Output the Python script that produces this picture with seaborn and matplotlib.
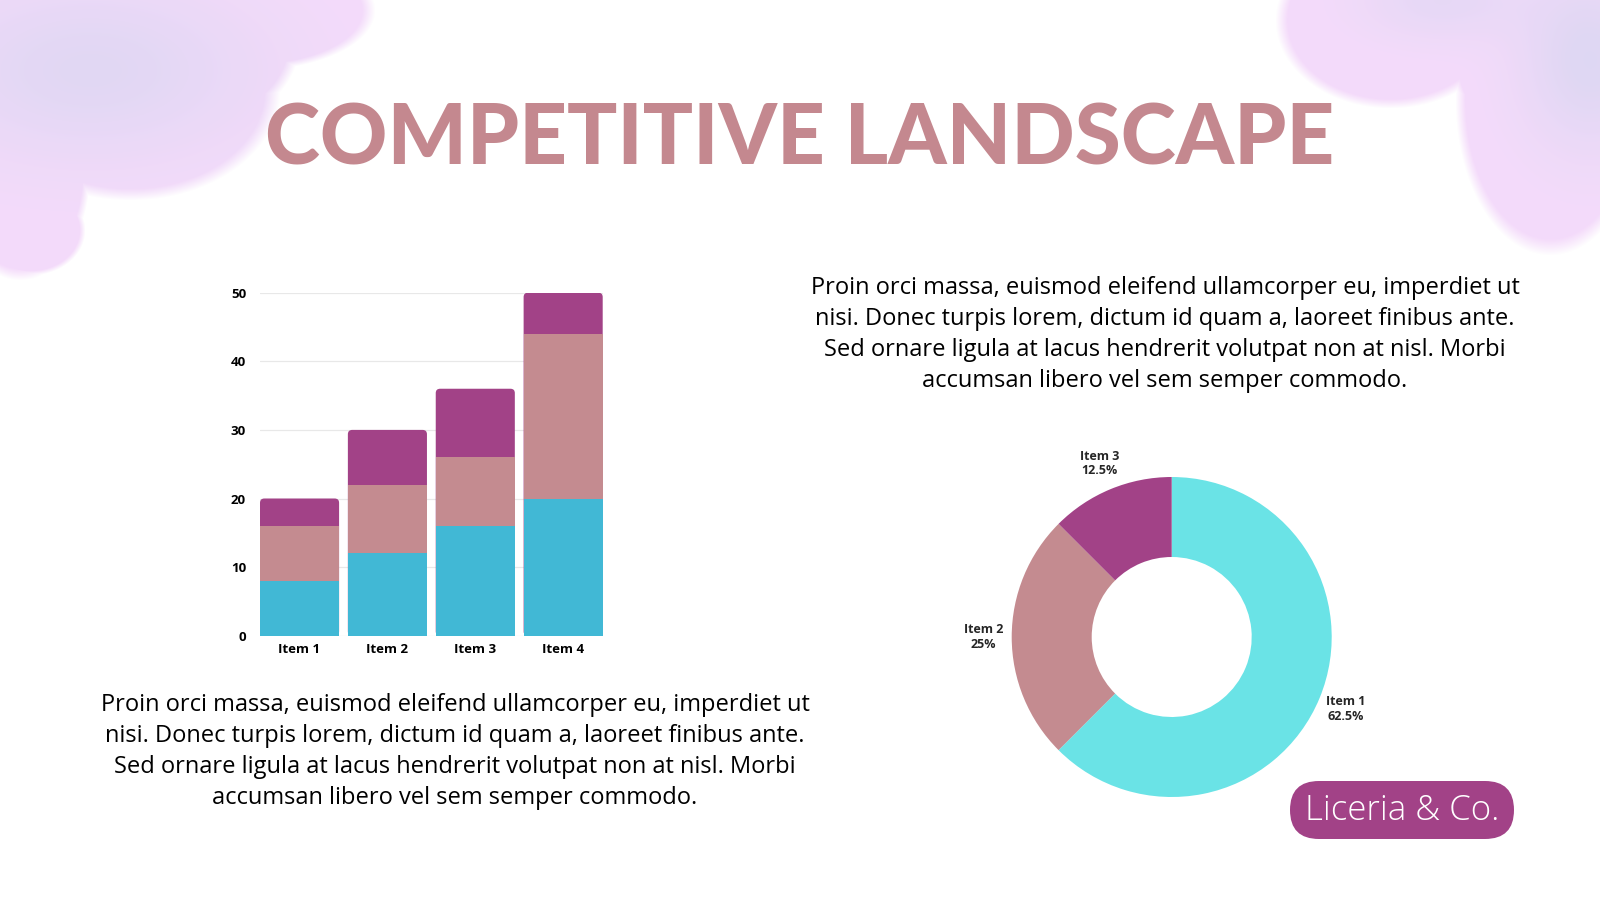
import numpy as np
import pandas as pd
import matplotlib
matplotlib.use("Agg")
import matplotlib.pyplot as plt
import seaborn as sns
from matplotlib.patches import FancyBboxPatch

# ---------------- data ----------------
bar_items = ["Item 1", "Item 2", "Item 3", "Item 4"]
series_a = [8, 12, 16, 20]     # cyan (bottom)
series_b = [8, 10, 10, 24]     # rose (middle)
series_c = [4, 8, 10, 6]       # purple (top)
y_ticks = [0, 10, 20, 30, 40, 50]

donut_labels = ["Item 1", "Item 2", "Item 3"]
donut_values = [62.5, 25, 12.5]
donut_pct = ["62.5%", "25%", "12.5%"]

title_text = "COMPETITIVE LANDSCAPE"
para_right = ["Proin orci massa, euismod eleifend ullamcorper eu, imperdiet ut",
              "nisi. Donec turpis lorem, dictum id quam a, laoreet finibus ante.",
              "Sed ornare ligula at lacus hendrerit volutpat non at nisl. Morbi",
              "accumsan libero vel sem semper commodo."]
para_left = list(para_right)
brand = "Liceria & Co."

# ---------------- style ----------------
CYAN_BAR = "#41B8D5"
ROSE = "#C48B90"
PURPLE = "#A24287"
CYAN_PIE = "#6AE3E6"
TITLE_C = "#C4888F"

sns.set_theme(style="white")
plt.rcParams["font.family"] = ["Open Sans", "DejaVu Sans"]

W, H = 1600, 900
fig = plt.figure(figsize=(16, 9), dpi=100)
fig.patch.set_facecolor("white")

# ---------------- watercolor background ----------------
bg = fig.add_axes([0, 0, 1, 1], zorder=0)
bg.set_axis_off()
yy, xx = np.mgrid[0:H, 0:W].astype(float)
blobs = [(70, 30, 220, 130), (250, 10, 125, 60), (20, 170, 70, 110),
         (130, 90, 150, 110), (190, 40, 110, 90), (30, 230, 55, 45),
         (1390, 20, 115, 88), (1550, 100, 95, 155), (1590, 20, 90, 70),
         (1520, 60, 70, 80)]
field = np.full((H, W), -10.0)
for cx, cy, rx, ry in blobs:
    f = 1 - ((xx - cx) / rx) ** 2 - ((yy - cy) / ry) ** 2
    field = np.maximum(field, f)
alpha = np.clip(field * 5.0, 0, 1) * 0.8
pink = np.array([242, 210, 250]) / 255.0
blue = np.array([208, 205, 238]) / 255.0
t = np.exp(-(((xx - 90) / 170) ** 2 + ((yy - 70) / 90) ** 2)) * 0.7 \
    + np.exp(-(((xx - 1590) / 70) ** 2 + ((yy - 60) / 90) ** 2)) * 0.8 \
    + np.exp(-(((xx - 1440) / 80) ** 2 + ((yy - 0) / 40) ** 2)) * 0.5
t = np.clip(t, 0, 1)[..., None]
rgb = pink * (1 - t) + blue * t
img = np.concatenate([rgb, alpha[..., None]], axis=2)
bg.imshow(img, extent=[0, W, H, 0], aspect="auto", interpolation="bilinear")
bg.set_xlim(0, W)
bg.set_ylim(H, 0)


def fx(px):
    return px / W


def fy(py):
    return 1 - py / H


# ---------------- title ----------------
fig.text(fx(800), fy(140), title_text, ha="center", va="center",
         fontsize=60, fontweight="black", color=TITLE_C,
         family=["Lato", "DejaVu Sans"], zorder=3)

# ---------------- stacked bar chart ----------------
df = pd.DataFrame({"item": bar_items, "a": series_a, "b": series_b, "c": series_c})
df["ab"] = df["a"] + df["b"]
df["abc"] = df["ab"] + df["c"]

ax = fig.add_axes([260 / W, fy(635.7), 342.7 / W, (635.7 - 292.7) / H], zorder=2)
ax.patch.set_alpha(0)
sns.barplot(data=df, x="item", y="abc", color=PURPLE, width=0.9, ax=ax,
            saturation=1, linewidth=0, zorder=3)
# round the top corners of the full-height (purple) bars
top_bars = list(ax.patches)
for p in top_bars:
    x0, w, h = p.get_x(), p.get_width(), p.get_height()
    p.remove()
    fb = FancyBboxPatch((x0, 0), w, h, boxstyle="round,pad=0,rounding_size=0.05",
                        mutation_aspect=12.5, facecolor=PURPLE, edgecolor="none",
                        linewidth=0, zorder=3)
    ax.add_patch(fb)
sns.barplot(data=df, x="item", y="ab", color=ROSE, width=0.9, ax=ax,
            saturation=1, linewidth=0, zorder=4)
sns.barplot(data=df, x="item", y="a", color=CYAN_BAR, width=0.9, ax=ax,
            saturation=1, linewidth=0, zorder=5)
ax.set_xlim(-0.45, 3.45)
ax.set_ylim(0, 50)
ax.set_yticks(y_ticks)
ax.set_xlabel("")
ax.set_ylabel("")
for s in ax.spines.values():
    s.set_visible(False)
ax.grid(axis="y", color="#E8E8E8", linewidth=0.9, zorder=0)
ax.set_axisbelow(True)
ax.tick_params(axis="both", length=0, labelsize=9.5, colors="black")
ax.tick_params(axis="y", pad=10)
ax.tick_params(axis="x", pad=5)
for lab in ax.get_xticklabels() + ax.get_yticklabels():
    lab.set_fontweight("bold")
    lab.set_family(["Open Sans", "DejaVu Sans"])

# ---------------- donut ----------------
cx, cy, r = 1171.7, 637.0, 160.0
half = 220.0
pax = fig.add_axes([(cx - half) / W, fy(cy + half), 2 * half / W, 2 * half / H], zorder=2)
pax.set_axis_off()
labels = [f"{l}\n{p}" for l, p in zip(donut_labels, donut_pct)]
wedges, texts = pax.pie(donut_values, colors=[CYAN_PIE, ROSE, PURPLE],
                        startangle=90, counterclock=False, labels=labels,
                        labeldistance=1.175, radius=1.0,
                        wedgeprops=dict(width=0.5, linewidth=0))
for tx in texts:
    tx.set_ha("center")
    tx.set_va("center")
    tx.set_fontsize(9)
    tx.set_fontweight("bold")
    tx.set_linespacing(1.15)
lim = half / r
pax.set_xlim(-lim, lim)
pax.set_ylim(-lim, lim)
pax.set_aspect("equal")

# ---------------- paragraphs ----------------
for i, line in enumerate(para_right):
    fig.text(fx(1165), fy(288 + 31 * i), line, ha="center", va="center",
             fontsize=17, color="black", zorder=3)
for i, line in enumerate(para_left):
    fig.text(fx(455), fy(705 + 31 * i), line, ha="center", va="center",
             fontsize=17, color="black", zorder=3)

# ---------------- brand pill ----------------
pill = FancyBboxPatch((1290, 781), 224, 58,
                      boxstyle="round,pad=0,rounding_size=29",
                      facecolor=PURPLE, edgecolor="none", zorder=2)
bg.add_patch(pill)
fig.text(fx(1402), fy(811), brand, ha="center", va="center", fontsize=25,
         fontweight="light", color="white", zorder=4)

fig.savefig("out.png", dpi=100, facecolor="white")
